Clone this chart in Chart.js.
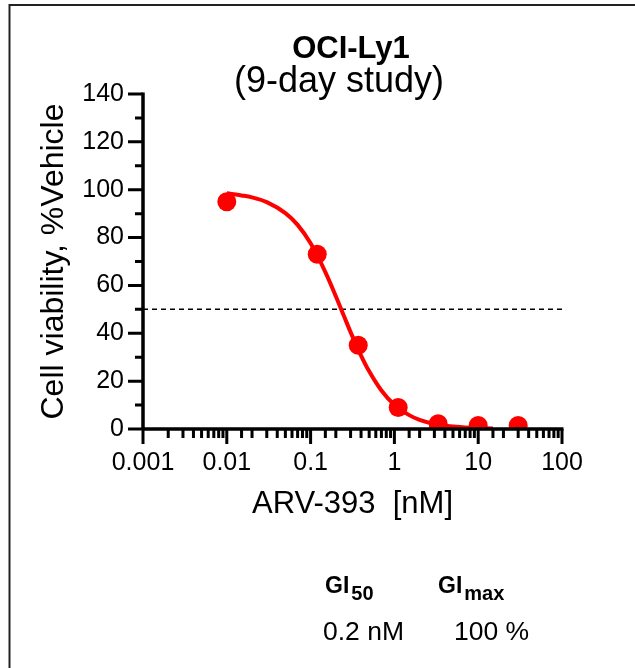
<!DOCTYPE html>
<html>
<head>
<meta charset="utf-8">
<script src="https://cdn.jsdelivr.net/npm/chart.js@4.4.1/dist/chart.umd.min.js"></script>
<style>
  html, body { margin: 0; padding: 0; background: #fff; }
  #wrap { width: 635px; height: 668px; }
</style>
</head>
<body>
<div id="wrap"><canvas id="chart" width="635" height="668"></canvas></div>
<script>
const FONT = "'Liberation Sans', Arial, Helvetica, sans-serif";

// measured points (ARV-393 dose in nM, % of vehicle)
const doseNM    = [0.01, 0.12, 0.37, 1.11, 3.33, 10, 30];
const viability = [95, 73, 35, 9, 2.2, 1.5, 1.5];

// fitted curve
const fitDose      = [0.01, 0.015, 0.02, 0.03, 0.05, 0.07, 0.1, 0.15, 0.2, 0.25, 0.3, 0.4, 0.5, 0.7, 1, 1.5, 2, 3, 5, 8, 15];
const fitViability = [98.5, 97.6, 96.8, 94.8, 90.2, 85.3, 77.6, 65.6, 55.5, 47.2, 40.5, 30.7, 24.1, 16.1, 10.1, 5.8, 3.8, 2.1, 1.0, 0.5, 0.2];

// 50% reference line
const refDose      = [0.001, 100];
const refViability = [50, 50];

const xTickLabels = ['0.001', '0.01', '0.1', '1', '10', '100'];
const yTickLabels = ['0', '20', '40', '60', '80', '100', '120', '140'];

const titleText    = 'OCI-Ly1';
const subtitleText = '(9-day study)';
const xTitle       = 'ARV-393  [nM]';
const yTitle       = 'Cell viability, %Vehicle';
const giHeaders    = [['GI', '50'], ['GI', 'max']];
const giValues     = ['0.2 nM', '100 %'];

const RED = '#ff0000';

const decadeIndex = (v) => {
  const k = Math.log10(v) + 3;
  const r = Math.round(k);
  return Math.abs(k - r) < 1e-6 ? r : -1;
};

// axis lines + major/minor ticks, Prism style
const axesPlugin = {
  id: 'prismAxes',
  afterDatasetsDraw(chart) {
    const { ctx, chartArea: a, scales: { x, y } } = chart;
    ctx.save();
    ctx.strokeStyle = '#000';
    ctx.lineCap = 'butt';

    ctx.lineWidth = 3;
    ctx.beginPath();
    x.ticks.forEach(t => {
      const px = x.getPixelForValue(t.value);
      const len = decadeIndex(t.value) >= 0 ? 15 : 9;
      ctx.moveTo(px, a.bottom);
      ctx.lineTo(px, a.bottom + len);
    });
    y.ticks.forEach(t => {
      const py = y.getPixelForValue(t.value);
      const len = t.value % 20 === 0 ? 15 : 8;
      ctx.moveTo(a.left, py);
      ctx.lineTo(a.left - len, py);
    });
    ctx.stroke();

    ctx.lineWidth = 3.5;
    ctx.beginPath();
    ctx.moveTo(a.left, a.top - 1.5);
    ctx.lineTo(a.left, a.bottom);
    ctx.moveTo(a.left, a.bottom);
    ctx.lineTo(x.getPixelForValue(100) + 1.5, a.bottom);
    ctx.stroke();
    ctx.restore();
  },
};

// frame, titles and the GI table
const annotatePlugin = {
  id: 'annotate',
  afterDraw(chart) {
    const { ctx } = chart;
    ctx.save();
    ctx.strokeStyle = '#222';
    ctx.lineWidth = 2;
    ctx.beginPath();
    ctx.moveTo(9.5, 668);
    ctx.lineTo(9.5, 5);
    ctx.lineTo(635, 5);
    ctx.stroke();

    ctx.fillStyle = '#000';
    ctx.textBaseline = 'alphabetic';
    ctx.textAlign = 'center';
    ctx.font = `bold 31px ${FONT}`;
    ctx.fillText(titleText, 351, 58);
    ctx.font = `36px ${FONT}`;
    ctx.fillText(subtitleText, 339, 92);

    ctx.textAlign = 'left';
    [325, 438].forEach((gx, i) => {
      const [main, sub] = giHeaders[i];
      ctx.font = `bold 23px ${FONT}`;
      ctx.fillText(main, gx, 593);
      const w = ctx.measureText(main).width;
      ctx.font = `bold 20px ${FONT}`;
      ctx.fillText(sub, gx + w + 2, 600);
    });
    ctx.font = `26.5px ${FONT}`;
    ctx.fillText(giValues[0], 323, 640);
    ctx.fillText(giValues[1], 454, 640);
    ctx.restore();
  },
};

new Chart(document.getElementById('chart'), {
  data: {
    datasets: [
      {
        type: 'scatter',
        label: 'OCI-Ly1',
        data: doseNM.map((d, i) => ({ x: d, y: viability[i] })),
        backgroundColor: RED,
        borderWidth: 0,
        pointRadius: 9.5,
        pointHoverRadius: 9.5,
        clip: 0,
      },
      {
        type: 'line',
        label: 'fit',
        data: fitDose.map((d, i) => ({ x: d, y: fitViability[i] })),
        borderColor: RED,
        borderWidth: 4,
        pointRadius: 0,
        cubicInterpolationMode: 'monotone',
        fill: false,
        clip: 0,
      },
      {
        type: 'line',
        label: '50%',
        data: refDose.map((d, i) => ({ x: d, y: refViability[i] })),
        borderColor: '#000',
        borderWidth: 1.5,
        borderDash: [5, 4],
        pointRadius: 0,
        fill: false,
      },
    ],
  },
  options: {
    responsive: false,
    animation: false,
    events: [],
    layout: { padding: { left: 0, top: 94, right: 73, bottom: 0 } },
    plugins: {
      legend: { display: false },
      tooltip: { enabled: false },
      title: { display: false },
    },
    scales: {
      x: {
        type: 'logarithmic',
        min: 0.001,
        max: 100,
        grid: { display: false, drawTicks: false },
        border: { display: false },
        ticks: {
          autoSkip: false,
          maxRotation: 0,
          padding: 19,
          color: '#000',
          font: { family: FONT, size: 25 },
          callback: (v) => {
            const k = decadeIndex(v);
            return k >= 0 ? xTickLabels[k] : '';
          },
        },
        title: {
          display: true,
          text: xTitle,
          color: '#000',
          font: { family: FONT, size: 31 },
          padding: { top: 0, bottom: 145 },
        },
        afterFit: (s) => { s.height = 239; },
      },
      y: {
        type: 'linear',
        min: 0,
        max: 140,
        grid: { display: false, drawTicks: false },
        border: { display: false },
        ticks: {
          stepSize: 10,
          autoSkip: false,
          padding: 19,
          color: '#000',
          font: { family: FONT, size: 25 },
          callback: (v) => (v % 20 === 0 ? yTickLabels[v / 20] : ''),
        },
        title: {
          display: true,
          text: yTitle,
          color: '#000',
          font: { family: FONT, size: 32 },
          padding: { top: 35, bottom: 0 },
        },
        afterFit: (s) => { s.width = 143; },
      },
    },
  },
  plugins: [axesPlugin, annotatePlugin],
});
</script>
</body>
</html>
